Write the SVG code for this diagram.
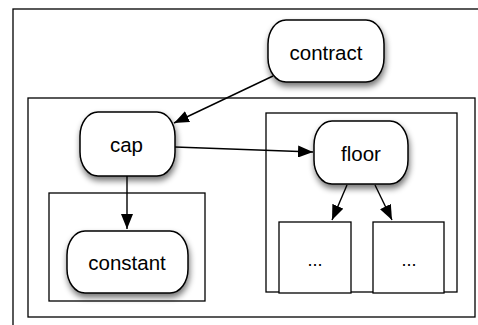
<svg xmlns="http://www.w3.org/2000/svg" width="478" height="325" viewBox="0 0 478 325">
<defs>
<style>
.frame{fill:none;stroke:#000;stroke-width:1.3}
.box{fill:#fff;stroke:#000;stroke-width:1.3}
.node{fill:#fff;stroke:#000;stroke-width:1.5;filter:url(#sh)}
.lbl{font-family:"Liberation Sans",Arial,sans-serif;font-size:20.5px;fill:#000;text-anchor:middle}
.dots{font-family:"Liberation Sans",Arial,sans-serif;font-size:18px;fill:#000;text-anchor:middle}
.edge{fill:none;stroke:#000;stroke-width:1.4}
</style>
<filter id="sh" x="-30%" y="-30%" width="160%" height="170%">
<feGaussianBlur in="SourceAlpha" stdDeviation="3"/>
<feOffset dx="1" dy="4" result="b"/>
<feComponentTransfer><feFuncA type="linear" slope="0.55"/></feComponentTransfer>
<feMerge><feMergeNode/><feMergeNode in="SourceGraphic"/></feMerge>
</filter>
<marker id="ah" viewBox="0 0 15 12" refX="15" refY="6" markerWidth="15" markerHeight="12" markerUnits="userSpaceOnUse" orient="auto">
<path d="M0,0 L15,6 L0,12 Z" fill="#000"/>
</marker>
</defs>
<rect width="478" height="325" fill="#fff"/>
<g id="outer-frame"><rect class="frame" x="13" y="9" width="480" height="330"/></g>
<g id="main-box"><rect class="frame" x="28" y="98" width="447" height="219"/></g>
<g id="constant-box"><rect class="frame" x="49" y="193" width="156" height="108"/></g>
<g id="floor-box"><rect class="frame" x="266" y="113" width="191" height="179"/></g>
<g id="contract"><rect class="node" x="268" y="20" width="116" height="62" rx="18" ry="24"/><text class="lbl" x="326" y="60">contract</text></g>
<g id="cap"><rect class="node" x="80" y="112" width="95" height="64" rx="18" ry="24"/><text class="lbl" x="126.5" y="152">cap</text></g>
<g id="constant"><rect class="node" x="67" y="231" width="121" height="62" rx="18" ry="24"/><text class="lbl" x="127" y="270">constant</text></g>
<g id="floor"><rect class="node" x="314" y="121" width="94" height="63" rx="18" ry="24"/><text class="lbl" x="361" y="161">floor</text></g>
<g id="child1"><rect class="box" x="279" y="222" width="72" height="71"/><text class="dots" x="315" y="266">...</text></g>
<g id="child2"><rect class="box" x="373" y="222" width="71" height="71"/><text class="dots" x="409" y="266">...</text></g>
<g id="connectors">
<line class="edge" x1="273" y1="76" x2="174" y2="123" marker-end="url(#ah)"/>
<line class="edge" x1="175" y1="147" x2="313" y2="152" marker-end="url(#ah)"/>
<line class="edge" x1="127" y1="176" x2="127" y2="229" marker-end="url(#ah)"/>
<line class="edge" x1="347" y1="185" x2="332" y2="220" marker-end="url(#ah)"/>
<line class="edge" x1="375" y1="185" x2="392" y2="220" marker-end="url(#ah)"/>
</g>
</svg>
